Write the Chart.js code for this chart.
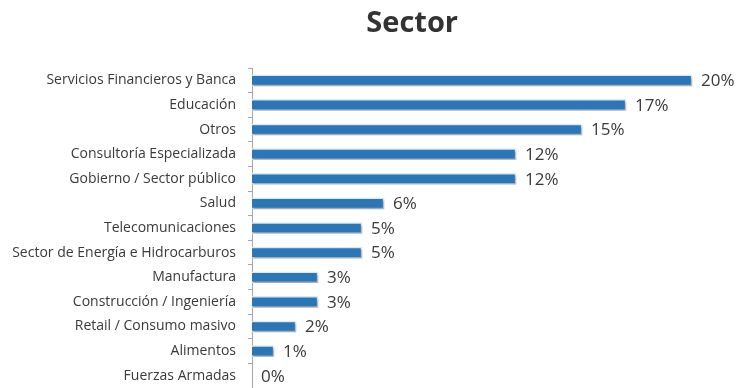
<!DOCTYPE html>
<html>
<head>
<meta charset="utf-8">
<script src="https://cdn.jsdelivr.net/npm/chart.js@4"></script>
<style>
  html, body { margin: 0; padding: 0; background: #ffffff; }
  #wrap { width: 736px; height: 388px; position: relative; }
</style>
</head>
<body>
<div id="wrap"><canvas id="chart"></canvas></div>
<script>
// Survey breakdown by sector (% of respondents)
const chartTitle = 'Sector';
const sectors = [
  'Servicios Financieros y Banca',
  'Educación',
  'Otros',
  'Consultoría Especializada',
  'Gobierno / Sector público',
  'Salud',
  'Telecomunicaciones',
  'Sector de Energía e Hidrocarburos',
  'Manufactura',
  'Construcción / Ingeniería',
  'Retail / Consumo masivo',
  'Alimentos',
  'Fuerzas Armadas'
];
const shares = [20, 17, 15, 12, 12, 6, 5, 5, 3, 3, 2, 1, 0];
const shareAxisMax = 21;

const textColor = '#3A3A3A';
const axisColor = '#A6A6A6';

// Soft drop shadow under the bars
const barShadow = {
  id: 'barShadow',
  beforeDatasetsDraw(chart) {
    const ctx = chart.ctx;
    ctx.save();
    ctx.shadowColor = 'rgba(0,0,0,0.28)';
    ctx.shadowBlur = 2;
    ctx.shadowOffsetX = 1;
    ctx.shadowOffsetY = 2;
  },
  afterDatasetsDraw(chart) {
    chart.ctx.restore();
  }
};

// Percentage written just past the end of each bar
const valueLabels = {
  id: 'valueLabels',
  afterDatasetsDraw(chart) {
    const ctx = chart.ctx;
    const meta = chart.getDatasetMeta(0);
    ctx.save();
    ctx.font = '17px "Open Sans"';
    ctx.fillStyle = textColor;
    ctx.textAlign = 'left';
    ctx.textBaseline = 'middle';
    meta.data.forEach((bar, i) => {
      const v = chart.data.datasets[0].data[i];
      ctx.fillText(Math.round(v) + '%', bar.x + 9, bar.y + 1);
    });
    ctx.restore();
  }
};

// Heading, set a little right of the canvas centre over the bars
const headline = {
  id: 'headline',
  afterDraw(chart) {
    const ctx = chart.ctx;
    ctx.save();
    ctx.font = 'bold 29px "Open Sans"';
    ctx.fillStyle = '#333333';
    ctx.textAlign = 'center';
    ctx.textBaseline = 'alphabetic';
    ctx.fillText(chartTitle, chart.width * 0.56, 32);
    ctx.restore();
  }
};

new Chart(document.getElementById('chart'), {
  type: 'bar',
  data: {
    labels: sectors,
    datasets: [{
      data: shares,
      backgroundColor: '#2B76B6',
      borderColor: '#D9E8F5',
      borderWidth: 1.5,
      borderSkipped: 'start',
      barThickness: 11
    }]
  },
  plugins: [barShadow, valueLabels, headline],
  options: {
    indexAxis: 'y',
    responsive: true,
    maintainAspectRatio: false,
    animation: false,
    layout: { padding: { top: 68, right: 22, bottom: -1, left: 0 } },
    plugins: {
      legend: { display: false },
      tooltip: { enabled: false },
      title: { display: false }
    },
    scales: {
      x: {
        display: false,
        min: 0,
        max: shareAxisMax
      },
      y: {
        grid: {
          offset: true,
          drawOnChartArea: false,
          drawTicks: true,
          tickLength: 4,
          color: axisColor
        },
        border: { display: true, color: axisColor, width: 1 },
        ticks: {
          padding: 12,
          color: textColor,
          font: { family: 'Open Sans', size: 14 }
        },
        afterFit(scale) {
          // fixed label column; row bands fill the full plot height
          scale.width = 252;
          scale.paddingTop = 0;
          scale.paddingBottom = 0;
        }
      }
    }
  }
});
</script>
</body>
</html>
